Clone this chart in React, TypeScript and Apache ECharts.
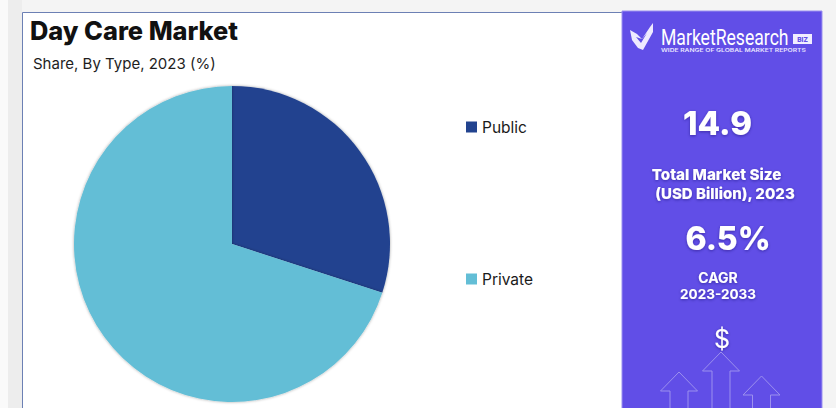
import React, { useEffect, useRef } from "react";
import * as echarts from "echarts";

const categories = ["Public", "Private"];
const shares = [30, 70];
const colors = ["#22438F", "#63BED6"];
const FONT = "Inter";

export default function App() {
  const ref = useRef<HTMLDivElement>(null);
  useEffect(() => {
    document.body.style.margin = "0";
    const chart = echarts.init(ref.current!, null, { renderer: "svg" });
    const arrowLine = { stroke: "#9C90EE", lineWidth: 1, fill: "none" };
    const arrow = (tx: number, ty: number, bottom: number) => ({
      type: "polyline",
      silent: true,
      shape: {
        points: [
          [tx - 9, bottom],
          [tx - 9, ty + 19],
          [tx - 18.5, ty + 19],
          [tx, ty],
          [tx + 18.5, ty + 19],
          [tx + 9, ty + 19],
          [tx + 9, bottom],
        ],
      },
      style: arrowLine,
    });
    const white = "#FFFFFF";
    const centre = (text: string, x: number, y: number, size: number, weight: any = 700) => ({
      type: "text",
      x,
      y,
      style: {
        text,
        fill: white,
        font: `${weight} ${size}px ${FONT}`,
        textAlign: "center",
        textVerticalAlign: "middle",
        textShadowColor: "rgba(20,10,90,0.45)",
        textShadowBlur: 3,
        textShadowOffsetY: 1,
      },
    });
    chart.setOption({
      animation: false,
      backgroundColor: "#F4F4F4",
      legend: {
        data: categories,
        orient: "vertical",
        left: 461,
        top: 114,
        itemWidth: 11,
        itemHeight: 11,
        itemGap: 136,
        icon: "rect",
        selectedMode: false,
        textStyle: { fontFamily: FONT, fontSize: 15.5, color: "#1A1A1A" },
      },
      series: [
        {
          type: "pie",
          center: [232, 244],
          radius: [0, 158],
          startAngle: 90,
          clockwise: true,
          silent: true,
          label: { show: false },
          labelLine: { show: false },
          z: 5,
          data: categories.map((name, i) => ({
            name,
            value: shares[i],
            itemStyle: {
              color: colors[i],
              shadowColor: "rgba(0,0,0,0.35)",
              shadowBlur: 3,
            },
          })),
        },
      ],
      graphic: {
        elements: [
          { type: "rect", z: -10, shape: { x: 0, y: 0, width: 8, height: 408 }, style: { fill: "#FAFAFA" } },
          { type: "rect", z: -10, shape: { x: 8, y: 0, width: 14, height: 408 }, style: { fill: "#EDEDED" } },
          { type: "rect", z: -9, shape: { x: 22.5, y: 12.5, width: 600, height: 400 }, style: { fill: "#FFFFFF", stroke: "#6C80B4", lineWidth: 1 } },
          { type: "rect", z: -8, shape: { x: 622, y: 11, width: 200, height: 400 }, style: { fill: "#614EE7", stroke: "#9B90F0", lineWidth: 1 } },
          { type: "text", x: 30, y: 30, style: { text: "Day Care Market", fill: "#111111", font: `800 25.4px ${FONT}`, textVerticalAlign: "middle" } },
          { type: "text", x: 33, y: 63, style: { text: "Share, By Type, 2023 (%)", fill: "#1E1E1E", font: `400 15px ${FONT}`, textVerticalAlign: "middle" } },
          { type: "polygon", shape: { points: [[630, 30], [637, 34], [642, 39], [650, 27], [653, 23], [653, 32], [643, 50], [638, 48], [632, 40]] }, style: { fill: "#EFEAFF" } },
          { type: "polygon", shape: { points: [[636, 37], [641, 43], [647, 33], [642, 39]] }, style: { fill: "#614EE7" } },
          { type: "text", x: 661, y: 38, scaleX: 0.8, style: { text: "MarketResearch", fill: white, font: `400 22px Roboto`, textVerticalAlign: "middle" } },
          { type: "rect", shape: { x: 793, y: 34, width: 19, height: 10 }, style: { fill: "#F0EDFF" } },
          { type: "text", x: 802.5, y: 39.5, style: { text: "BIZ", fill: "#614EE7", font: `800 6.5px ${FONT}`, textAlign: "center", textVerticalAlign: "middle" } },
          { type: "text", x: 661, y: 50, scaleX: 1.24, style: { text: "WIDE RANGE OF GLOBAL MARKET REPORTS", fill: "#E8E4FF", font: `600 5.4px ${FONT}`, textVerticalAlign: "middle" } },
          centre("14.9", 717.5, 123, 33, 800),
          centre("Total Market Size", 716.5, 174, 15.2, 800),
          centre("(USD Billion), 2023", 725, 193, 15, 800),
          centre("6.5%", 728, 238, 32, 800),
          centre("CAGR", 718, 277, 14, 700),
          centre("2023-2033", 718, 294, 13.5, 700),
          centre("$", 722, 339, 25, 400),
          arrow(721, 352, 412),
          arrow(679, 372, 412),
          arrow(761.5, 376, 412),
        ],
      },
    });
    return () => chart.dispose();
  }, []);
  return <div ref={ref} style={{ position: "absolute", left: 0, top: 0, width: 836, height: 408 }} />;
}
